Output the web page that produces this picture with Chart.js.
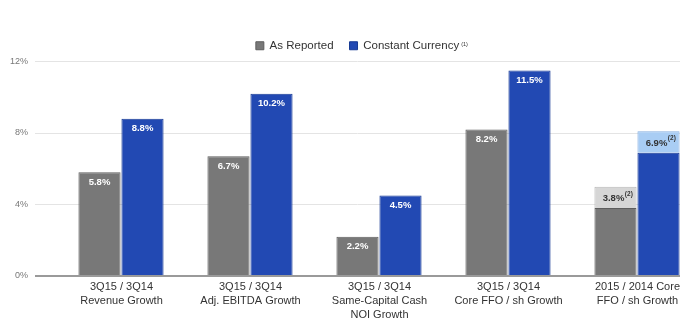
<!DOCTYPE html>
<html>
<head>
<meta charset="utf-8">
<script src="https://cdn.jsdelivr.net/npm/chart.js@4/dist/chart.umd.min.js"></script>
<style>
  html, body { margin: 0; padding: 0; background: #fff; }
  #wrap { width: 700px; height: 330px; }
</style>
</head>
<body>
<div id="wrap"><canvas id="growthChart"></canvas></div>
<script>
"use strict";

// growth metrics, in percent
var categories = [
    [ "3Q15 / 3Q14", "Revenue Growth" ],
    [ "3Q15 / 3Q14", "Adj. EBITDA Growth" ],
    [ "3Q15 / 3Q14", "Same-Capital Cash", "NOI Growth" ],
    [ "3Q15 / 3Q14", "Core FFO / sh Growth" ],
    [ "2015 / 2014 Core", "FFO / sh Growth" ]
];
var asReported       = [ 5.8, 6.7, 2.2, 8.2, 3.8 ];
var constantCurrency = [ 8.8, 10.2, 4.5, 11.5, 6.9 ];
// adjusted add-on for the full-year comparison (footnote 2)
var reportedAdj      = [ null, null, null, null, 1.2 ];
var currencyAdj      = [ null, null, null, null, 1.2 ];
var yTicks           = [ 0, 4, 8, 12 ];

var FONT = "'Liberation Sans', Arial, sans-serif";
Chart.defaults.font.family = FONT;

// value labels inside the bars
var barLabels = {
    id: "barLabels",
    afterDatasetsDraw: function ( chart ) {
        var c = chart.ctx;
        c.save();
        c.textBaseline = "middle";
        [ [ 1, 2, asReported ], [ 3, 4, constantCurrency ] ].forEach( function ( p ) {
            var main = chart.getDatasetMeta( p[ 0 ] ).data;
            var adj = chart.getDatasetMeta( p[ 1 ] ).data;
            var adjData = chart.data.datasets[ p[ 1 ] ].data;
            p[ 2 ].forEach( function ( v, i ) {
                var bar = main[ i ];
                var txt = v.toFixed( 1 ) + "%";
                if ( adjData[ i ] != null ) {
                    var seg = adj[ i ];
                    var y = ( seg.y + seg.base ) / 2;
                    c.font = "bold 9.5px " + FONT;
                    var w1 = c.measureText( txt ).width;
                    c.font = "bold 6.5px " + FONT;
                    var w2 = c.measureText( "(2)" ).width;
                    var x0 = bar.x - ( w1 + w2 ) / 2 + 2;
                    c.fillStyle = "#333";
                    c.textAlign = "left";
                    c.font = "bold 9.5px " + FONT;
                    c.fillText( txt, x0, y + 1 );
                    c.font = "bold 6.5px " + FONT;
                    c.fillText( "(2)", x0 + w1 + 0.5, y - 3.5 );
                } else {
                    c.fillStyle = "#fff";
                    c.textAlign = "center";
                    c.font = "bold 9.5px " + FONT;
                    c.fillText( txt, bar.x, bar.y + 10 );
                }
            });
        });
        c.restore();
    }
};

// footnote marker after the second legend entry
var legendNote = {
    id: "legendNote",
    afterDraw: function ( chart ) {
        var lg = chart.legend;
        if ( !lg || !lg.legendHitBoxes || lg.legendHitBoxes.length < 2 ) return;
        var hb = lg.legendHitBoxes[ 1 ];
        var c = chart.ctx;
        c.save();
        c.font = "5.5px " + FONT;
        c.fillStyle = "#333";
        c.textBaseline = "middle";
        c.fillText( "(1)", hb.left + hb.width + 2, hb.top + hb.height / 2 - 1 );
        c.restore();
    }
};

var ctx = document.getElementById( "growthChart" );
var myChart = new Chart( ctx, {
    type: "bar",
    data: {
        labels: categories,
        datasets: [
            {
                label: "",
                data: categories.map( function () { return null; } ),
                stack: "pad"
            },
            {
                label: "As Reported",
                data: asReported,
                stack: "reported",
                backgroundColor: "#787878",
                borderColor: "#5e5e5e",
                borderWidth: 1
            },
            {
                label: "",
                data: reportedAdj,
                stack: "reported",
                backgroundColor: "#d6d6d6",
                borderColor: "#b8b8b8",
                borderWidth: 1
            },
            {
                label: "Constant Currency",
                data: constantCurrency,
                stack: "currency",
                backgroundColor: "#2249b3",
                borderColor: "#173a94",
                borderWidth: 1
            },
            {
                label: "",
                data: currencyAdj,
                stack: "currency",
                backgroundColor: "#a9cdf4",
                borderColor: "#86aee0",
                borderWidth: 1
            }
        ]
    },
    options: {
        responsive: true,
        maintainAspectRatio: false,
        animation: false,
        datasets: {
            bar: { categoryPercentage: 1, barPercentage: 0.98 }
        },
        layout: {
            padding: { top: 24, right: 20, bottom: 0, left: 0 }
        },
        plugins: {
            legend: {
                position: "top",
                fullSize: false,
                labels: {
                    filter: function ( item ) { return item.text !== ""; },
                    boxWidth: 8,
                    boxHeight: 8,
                    padding: 16,
                    color: "#333",
                    font: { size: 11.5 }
                }
            },
            tooltip: { enabled: false }
        },
        scales: {
            x: {
                stacked: true,
                grid: { display: false, drawTicks: false },
                border: { display: false },
                ticks: {
                    color: "#333",
                    font: { size: 11, lineHeight: 1.27 },
                    padding: 4,
                    labelOffset: 22,
                    maxRotation: 0,
                    autoSkip: false
                },
                afterFit: function ( scale ) { scale.height = 54; }
            },
            y: {
                stacked: true,
                min: 0,
                max: 12,
                afterBuildTicks: function ( scale ) {
                    scale.ticks = yTicks.map( function ( v ) { return { value: v }; } );
                },
                grid: {
                    drawTicks: false,
                    color: function ( c ) { return c.tick && c.tick.value === 0 ? "#9a9a9a" : "#e4e4e4"; },
                    lineWidth: function ( c ) { return c.tick && c.tick.value === 0 ? 2 : 1; }
                },
                border: { display: false },
                ticks: {
                    color: "#777",
                    font: { size: 9 },
                    padding: 7,
                    callback: function ( v ) { return v + "%"; }
                },
                afterFit: function ( scale ) { scale.width = 35; }
            }
        }
    },
    plugins: [ barLabels, legendNote ]
});
</script>
</body>
</html>
